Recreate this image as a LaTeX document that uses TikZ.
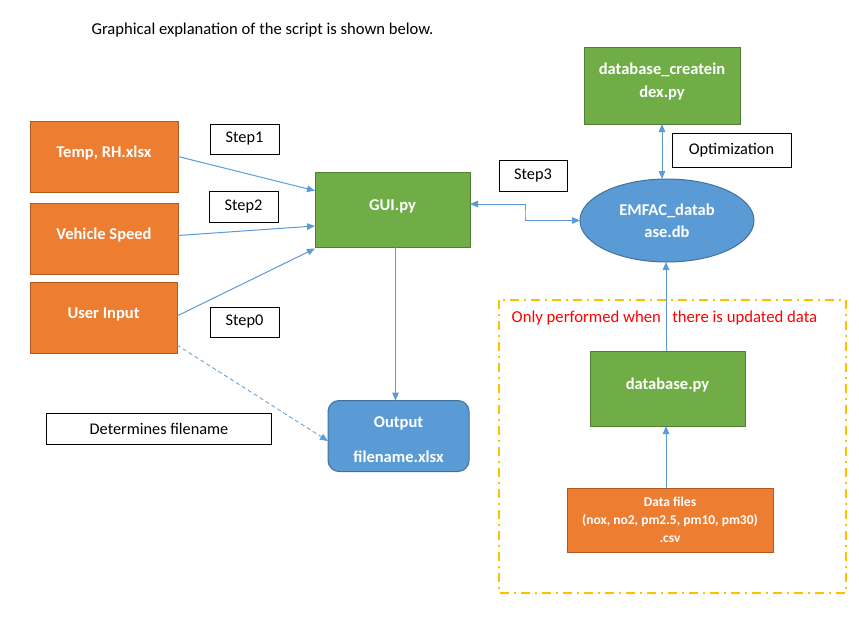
\documentclass[tikz,border=0pt]{standalone}
\usepackage{fontspec}
\setmainfont{Carlito}
\usetikzlibrary{arrows.meta,shapes.geometric,calc}
\definecolor{orf}{HTML}{ED7D31}
\definecolor{ord}{HTML}{AE5A21}
\definecolor{grf}{HTML}{70AD47}
\definecolor{grd}{HTML}{507E32}
\definecolor{blf}{HTML}{5B9BD5}
\definecolor{bld}{HTML}{41719C}
\definecolor{arr}{HTML}{5B9BD5}
\definecolor{gold}{HTML}{FFC000}
\newcommand{\upt}[1]{\raisebox{-1pt}[0pt][0pt]{#1}}
\begin{document}
\begin{tikzpicture}[x=1pt,y=-1pt,
  base/.style={inner sep=0pt,outer sep=0pt,line width=1pt,align=center,font=\fontsize{16.5}{23}\selectfont\bfseries},
  orbox/.style={base,fill=orf,draw=ord,text=white},
  grbox/.style={base,fill=grf,draw=grd,text=white},
  wtxt/.style={inner sep=0pt,align=center,text=white,font=\fontsize{16.5}{23}\selectfont\bfseries},
  labbox/.style={base,fill=white,draw=black,font=\fontsize{16.3}{19}\selectfont},
  conn/.style={draw=arr,line width=1pt,-{Triangle[length=8pt,width=6.5pt]}},
  bconn/.style={draw=arr,line width=1pt,{Triangle[length=8pt,width=6.5pt]}-{Triangle[length=8pt,width=6.5pt]}}]
\useasboundingbox (0,0) rectangle (859,626);
\fill[white] (0,0) rectangle (859,626);

\node[font=\fontsize{16.6}{19}\selectfont] (title) at (262.5,30) {Graphical explanation of the script is shown below.};

\node[orbox,minimum width=148pt,minimum height=71pt] (temp) at (104,156.5) {\upt{Temp, RH.xlsx}};
\node[orbox,minimum width=148pt,minimum height=71pt] (veh) at (104,238.5) {\upt{Vehicle Speed}};
\node[orbox,minimum width=147pt,minimum height=71pt] (user) at (103.5,317.5) {\upt{User Input}};

\node[labbox,minimum width=69pt,minimum height=30pt] (s1) at (244.5,139) {Step1};
\node[labbox,minimum width=69pt,minimum height=31pt] (s2) at (243.5,206.5) {Step2};
\node[labbox,minimum width=69pt,minimum height=30pt] (s0) at (244.5,322) {Step0};
\node[labbox,minimum width=68pt,minimum height=31pt] (s3) at (533,175.5) {Step3};
\node[labbox,minimum width=119pt,minimum height=34pt] (opt) at (731.5,150) {Optimization};
\node[labbox,minimum width=224.6pt,minimum height=31pt] (det) at (159,428.5) {Determines filename};

\node[grbox,minimum width=155pt,minimum height=75pt] (gui) at (392.5,209.5) {\upt{GUI.py}};
\node[grbox,minimum width=156pt,minimum height=76pt] (dbci) at (662,86) {};
\node[wtxt] (dbcit) at (662,82) {database\_createin\\dex.py};
\node[base,ellipse,fill=blf,draw=bld,text=white,minimum width=174pt,minimum height=83pt,font=\fontsize{16.5}{22}\selectfont\bfseries] (ell) at (667,220.5) {EMFAC\_datab\\ase.db};

\draw[gold,line width=2pt,dash pattern=on 9pt off 5pt on 2pt off 5pt] (499,300) rectangle (846,593);
\node[anchor=west,text=red,font=\fontsize{16.7}{19}\selectfont,inner sep=0pt] (note) at (511.5,318) {Only performed when \ \ there is updated data};

\node[grbox,minimum width=155pt,minimum height=75pt] (dbpy) at (667.5,388.5) {\upt{database.py}};
\node[orbox,minimum width=206pt,minimum height=64pt,font=\fontsize{13.5}{18}\selectfont\bfseries] (data) at (670,520) {Data files\\(nox, no2, pm2.5, pm10, pm30)\\.csv};

\node[base,rounded corners=11pt,fill=blf,draw=bld,text=white,minimum width=141pt,minimum height=71pt] (out) at (398.5,436) {};
\node[wtxt,font=\fontsize{16.5}{35}\selectfont\bfseries] (outt) at (398.5,439.5) {Output\\filename.xlsx};

% connectors
\draw[conn] (temp.east) -- ([yshift=18.8pt]gui.west);
\draw[conn] ([yshift=3pt]veh.east) -- ([yshift=-16.5pt]gui.west);
\draw[conn] ([yshift=1.5pt]user.east) -- ([yshift=-1.5pt]gui.south west);
\draw[conn,dashed,dash pattern=on 4pt off 3pt,line width=0.8pt] ([yshift=8pt]user.south east) -- ([yshift=-5pt]out.west);
\path ([xshift=3pt]gui.south) coordinate (gs);
\draw[conn] (gs) -- (gs |- out.north);
\draw[bconn] ([yshift=5.5pt]gui.east) -| ($(gui.east)!0.5!(ell.west)$) |- (ell.west);
\draw[bconn] (dbci.south) -- (dbci.south |- ell.north);
\draw[conn] ([xshift=-1.5pt]dbpy.north) -- ([xshift=-1.5pt]dbpy.north |- ell.south);
\draw[conn] ([xshift=-1.5pt]dbpy.south |- data.north) -- ([xshift=-1.5pt]dbpy.south);
\end{tikzpicture}
\end{document}
